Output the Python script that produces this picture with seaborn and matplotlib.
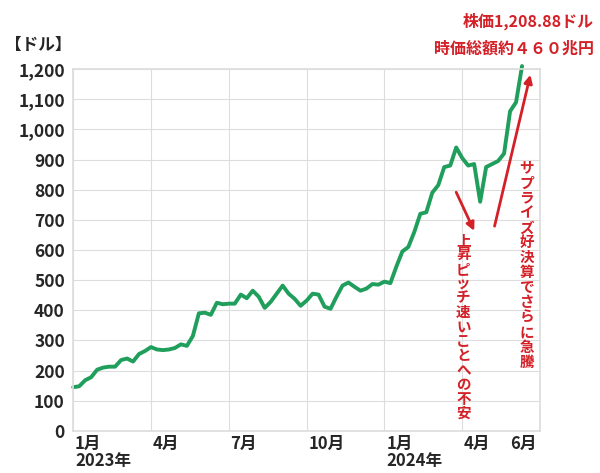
import numpy as np
import pandas as pd
import matplotlib
matplotlib.use("Agg")
import matplotlib.pyplot as plt
import seaborn as sns

# weekly share price (USD), Jan 2023 - Jun 2024
prices = [145, 148, 168, 178, 203, 210, 213, 213, 235, 240, 230, 255, 265,
          278, 270, 268, 270, 275, 287, 282, 315, 390, 392, 385, 425, 420,
          422, 422, 452, 440, 465, 445, 408, 428, 455, 482, 455, 438, 415,
          432, 455, 452, 412, 405, 445, 482, 492, 478, 465, 472, 487, 485,
          495, 490, 545, 595, 610, 660, 720, 725, 790, 815, 875, 880, 940,
          905, 880, 885, 760, 875, 885, 895, 920, 1060, 1090, 1210]
tick_weeks = [0, 13, 26, 39, 52, 65, 78]
tick_labels = ["1月\n2023年", "4月", "7月", "10月", "1月\n2024年", "4月", "6月"]
y_ticks = [0, 100, 200, 300, 400, 500, 600, 700, 800, 900, 1000, 1100, 1200]

df = pd.DataFrame({"week": np.arange(len(prices)), "price": prices})

sns.set_theme(style="whitegrid")
plt.rcParams['font.family'] = ['Noto Sans CJK JP', 'DejaVu Sans']

GREEN = "#1f9e5c"
RED = "#d42027"

fig = plt.figure(figsize=(6, 4.73), dpi=100)
ax = fig.add_axes([0.122, 0.089, 0.778, 0.765])
sns.lineplot(data=df, x="week", y="price", color=GREEN, linewidth=2.8, ax=ax, clip_on=False)

ax.set_xlim(0, 78)
ax.set_ylim(0, 1200)
ax.set_xticks(tick_weeks)
ax.set_xticklabels([])
ax.set_yticks(y_ticks)
ax.set_yticklabels([f"{v:,}" for v in y_ticks], fontsize=12.5, fontweight="bold")
ax.set_xlabel("")
ax.set_ylabel("")
ax.grid(color="#dddddd", linewidth=0.8)
for s in ax.spines.values():
    s.set_color("#dddddd")
ax.tick_params(axis="y", length=0, pad=6)

for w, lab in zip(tick_weeks, tick_labels):
    if w == 78:
        ax.text(w - 0.5, -12, lab, ha="right", va="top", fontsize=12, fontweight="bold")
    else:
        ax.text(w + 0.3, -12, lab, ha="left", va="top", fontsize=12, fontweight="bold",
                linespacing=0.95)

fig.text(0.008, 0.905, "【ドル】", fontsize=12, fontweight="bold", ha="left", va="center")
fig.text(0.99, 0.955, "株価1,208.88ドル", color=RED, fontsize=11.5, fontweight="bold", ha="right", va="center")
fig.text(0.99, 0.898, "時価総額約４６０兆円", color=RED, fontsize=11.5, fontweight="bold", ha="right", va="center")

ax.annotate("", xy=(67.2, 655), xytext=(63.8, 800),
            arrowprops=dict(arrowstyle="-|>", color=RED, lw=2, mutation_scale=12))
ax.annotate("", xy=(76.5, 1190), xytext=(70.3, 670),
            arrowprops=dict(arrowstyle="-|>", color=RED, lw=2, mutation_scale=12),
            annotation_clip=False)

ax.text(65.2, 660, "\n".join("上昇ピッチ速いことへの不安"), color=RED, fontsize=10.5,
        fontweight="bold", ha="center", va="top", linespacing=0.88)
ax.text(75.8, 900, "\n".join("サプライズ好決算でさらに急騰"), color=RED, fontsize=10.5,
        fontweight="bold", ha="center", va="top", linespacing=0.92)

fig.savefig("out.png", dpi=100)
